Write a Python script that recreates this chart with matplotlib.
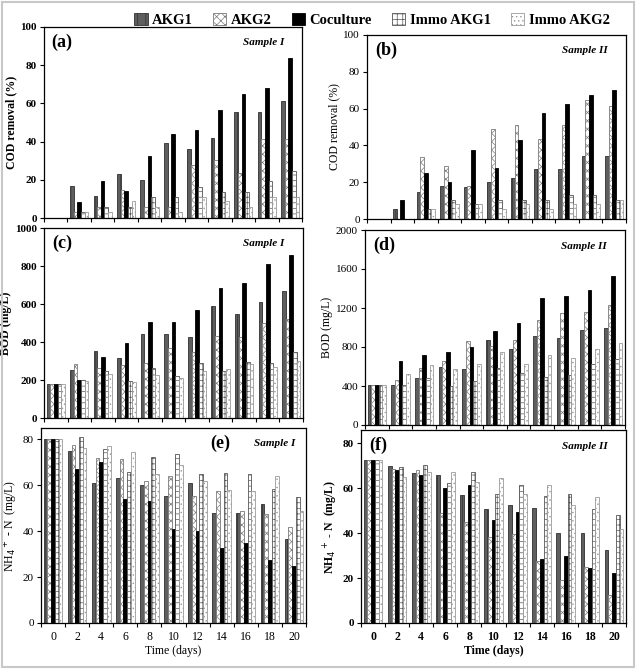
import numpy as np
import matplotlib
matplotlib.use("Agg")
import matplotlib.pyplot as plt
from matplotlib.patches import Rectangle

# =========================================================
# DATA
# =========================================================
DAYS   = [0, 2, 4, 6, 8, 10, 12, 14, 16, 18, 20]
SERIES = ["AKG1", "AKG2", "Coculture", "Immo AKG1", "Immo AKG2"]

# (a) COD removal (%) - Sample I
cod1_akg1 = [0, 17, 11.4, 22.8, 19.8, 39.2, 36.3, 41.9, 55.5, 55.5, 61.3]
cod1_akg2 = [0, 3, 5.6, 14.7, 5.6, 5.6, 27.8, 30.5, 23.6, 41.5, 41.5]
cod1_coc  = [0, 8.6, 19.4, 14, 32.4, 43.8, 46.2, 56.7, 65, 68, 84]
cod1_im1  = [0, 3, 5.6, 5.6, 11, 11, 16.3, 13.8, 13.8, 19.4, 24.7]
cod1_im2  = [0, 3, 3, 8.8, 5.6, 3.2, 11, 8.8, 5.8, 11, 11]

# (b) COD removal (%) - Sample II
cod2_akg1 = [0, 5.3, 14.9, 17.9, 17.2, 20.3, 22.5, 27.2, 27.2, 34.4, 34.4]
cod2_akg2 = [0, 0, 33.9, 28.8, 18.1, 48.7, 51.3, 43.5, 51.3, 64.7, 61.4]
cod2_coc  = [0, 10.3, 25.2, 20.1, 37.5, 27.9, 42.9, 57.4, 62.7, 67.2, 70.1]
cod2_im1  = [0, 0, 5.3, 10.3, 8.2, 10.3, 10.3, 10.3, 13.2, 13.2, 10.3]
cod2_im2  = [0, 0, 5.3, 8.2, 8.2, 5.3, 8.2, 5.3, 8.2, 8.2, 10.3]

# (c) BOD (mg/L) - Sample I
bod1_akg1 = [180, 252, 352, 316, 440, 440, 425, 588, 545, 612, 670]
bod1_akg2 = [180, 282, 261, 280, 288, 368, 350, 430, 425, 500, 522]
bod1_coc  = [180, 199, 320, 397, 505, 505, 568, 685, 708, 812, 858]
bod1_im1  = [180, 199, 250, 197, 262, 220, 288, 245, 295, 290, 350]
bod1_im2  = [180, 197, 232, 190, 228, 210, 250, 260, 283, 270, 300]

# (d) BOD (mg/L) - Sample II
bod2_akg1 = [415, 415, 480, 600, 570, 870, 775, 915, 890, 975, 1000]
bod2_akg2 = [415, 460, 580, 660, 860, 810, 875, 1080, 1150, 1160, 1230]
bod2_coc  = [415, 655, 720, 745, 800, 960, 1050, 1300, 1325, 1380, 1530]
bod2_im1  = [415, 415, 480, 400, 450, 580, 530, 490, 510, 630, 680]
bod2_im2  = [415, 520, 620, 570, 630, 745, 630, 720, 690, 780, 845]

# (e) NH4+-N (mg/L) - Sample I
nh1_akg1 = [80, 75, 61, 63.3, 60, 55.5, 61, 48, 48, 52, 36.5]
nh1_akg2 = [80, 77.5, 72, 71.3, 62, 64, 55.5, 57.5, 49, 47.5, 42]
nh1_coc  = [80, 67, 70, 54, 53, 41, 40, 32.5, 35, 27.5, 25]
nh1_im1  = [80, 81, 76, 66, 72.5, 73.5, 65, 65.5, 65, 58.5, 55]
nh1_im2  = [80, 76.5, 77, 74.5, 65, 69, 62, 58, 57.5, 64, 49]

# (f) NH4+-N (mg/L) - Sample II
nh2_akg1 = [72.7, 70, 67, 66, 57, 51, 52.7, 51.3, 40.3, 40.3, 32.5]
nh2_akg2 = [72.7, 68.5, 68, 49, 45, 38.5, 39.5, 27.5, 19, 25, 12.5]
nh2_coc  = [72.7, 68, 66, 60, 61.5, 46, 49.5, 28.7, 30, 24.5, 22.3]
nh2_im1  = [72.7, 69.5, 70.5, 62.5, 67.5, 57.5, 61.5, 56.5, 57.5, 51, 48]
nh2_im2  = [72.7, 65, 67.3, 67.5, 63, 64.5, 57.5, 61.5, 52.7, 56, 42]

# =========================================================
# STYLE
# =========================================================
plt.rcParams["font.family"] = ["Liberation Serif", "DejaVu Serif"]
plt.rcParams["hatch.linewidth"] = 0.5

# (facecolor, edgecolor, hatch) per series
STYLES = [
    ("#5e5e5e", "#303030", "||"),
    ("white",   "#7a7a7a", "xxxx"),
    ("black",   "black",   None),
    ("white",   "#555555", "+++"),
    ("white",   "#9a9a9a", "...."),
]
BAR_W = 0.155


def draw_panel(ax, series, ymax, ticks, label, ylabel, sample,
               show_x=False, bold=True, label_x=0.03):
    x = np.arange(len(DAYS))
    weight = "bold" if bold else "normal"
    for i, vals in enumerate(series):
        fc, ec, h = STYLES[i]
        ax.bar(x + (i - 2) * BAR_W, vals, BAR_W, color=fc, edgecolor=ec,
               hatch=h, linewidth=0.6, label=SERIES[i], zorder=2)

    ax.set_xlim(-0.5, len(DAYS) - 0.5)
    ax.set_ylim(0, ymax)
    ax.set_yticks(ticks)
    ax.set_yticklabels([str(t) for t in ticks], fontsize=8,
                       fontweight=weight)
    # category-boundary tick marks (Excel style)
    ax.set_xticks(np.arange(-0.5, len(DAYS), 1.0))
    ax.tick_params(axis="x", length=3, direction="out", labelbottom=False)
    ax.tick_params(axis="y", length=3, direction="out", pad=2)
    if show_x:
        ax.set_xticks(x, minor=True)
        ax.set_xticklabels([str(d) for d in DAYS], minor=True,
                           fontsize=8.5, fontweight=weight)
        ax.tick_params(axis="x", which="minor", length=0, pad=6)
        ax.set_xlabel("Time (days)", fontsize=8.5, fontweight=weight,
                      labelpad=1)

    ax.set_ylabel(ylabel, fontsize=8.5, fontweight=weight, labelpad=2)
    for s in ax.spines.values():
        s.set_linewidth(0.9)

    ax.text(label_x, 0.965, label, transform=ax.transAxes, ha="left",
            va="top", fontsize=13, fontweight="bold")
    ax.text(0.93, 0.94, sample, transform=ax.transAxes, ha="right",
            va="top", fontsize=8, fontweight="bold", style="italic")


fig = plt.figure(figsize=(6.36, 6.69), dpi=100)
W, H = 636, 669


def add_axes(l, r, t, b):
    return fig.add_axes([l / W, 1 - b / H, (r - l) / W, (b - t) / H])


ax_a = add_axes(44, 302, 27, 218)
ax_b = add_axes(367, 626, 35, 219)
ax_c = add_axes(44, 303, 228, 418)
ax_d = add_axes(365, 625, 230, 425)
ax_e = add_axes(41, 306, 428, 623)
ax_f = add_axes(361, 626, 430, 623)

draw_panel(ax_a, [cod1_akg1, cod1_akg2, cod1_coc, cod1_im1, cod1_im2],
           100, range(0, 101, 20), "(a)", "COD removal (%)", "Sample I")
draw_panel(ax_b, [cod2_akg1, cod2_akg2, cod2_coc, cod2_im1, cod2_im2],
           100, range(0, 101, 20), "(b)", "COD removal (%)", "Sample II",
           bold=False)
draw_panel(ax_c, [bod1_akg1, bod1_akg2, bod1_coc, bod1_im1, bod1_im2],
           1000, range(0, 1001, 200), "(c)", "BOD (mg/L)", "Sample I")
draw_panel(ax_d, [bod2_akg1, bod2_akg2, bod2_coc, bod2_im1, bod2_im2],
           2000, range(0, 2001, 400), "(d)", "BOD (mg/L)", "Sample II",
           bold=False)
draw_panel(ax_e, [nh1_akg1, nh1_akg2, nh1_coc, nh1_im1, nh1_im2],
           85, range(0, 81, 20), "(e)", r"NH$_4$$^+$ - N  (mg/L)", "",
           show_x=True, bold=False, label_x=0.64)
draw_panel(ax_f, [nh2_akg1, nh2_akg2, nh2_coc, nh2_im1, nh2_im2],
           86, range(0, 81, 20), "(f)", r"NH$_4$$^+$ - N  (mg/L)", "Sample II",
           show_x=True)
# (e) sample tag sits right after the panel letter in the reference
ax_e.text(0.96, 0.945, "Sample I", transform=ax_e.transAxes, ha="right",
          va="top", fontsize=8, fontweight="bold", style="italic")

handles, labels = ax_a.get_legend_handles_labels()
fig.legend(handles, labels, loc="upper center", bbox_to_anchor=(0.585, 1.0),
           ncol=5, frameon=False, handlelength=0.9, handleheight=0.9,
           handletextpad=0.3, columnspacing=1.4,
           prop={"family": "Liberation Serif", "weight": "bold", "size": 10.5})

# light grey frame around the whole figure
fig.patches.append(Rectangle((0.003, 0.003), 0.994, 0.994,
                             transform=fig.transFigure, fill=False,
                             edgecolor="#c8c8c8", linewidth=1.5))

fig.savefig("out.png", dpi=100)
